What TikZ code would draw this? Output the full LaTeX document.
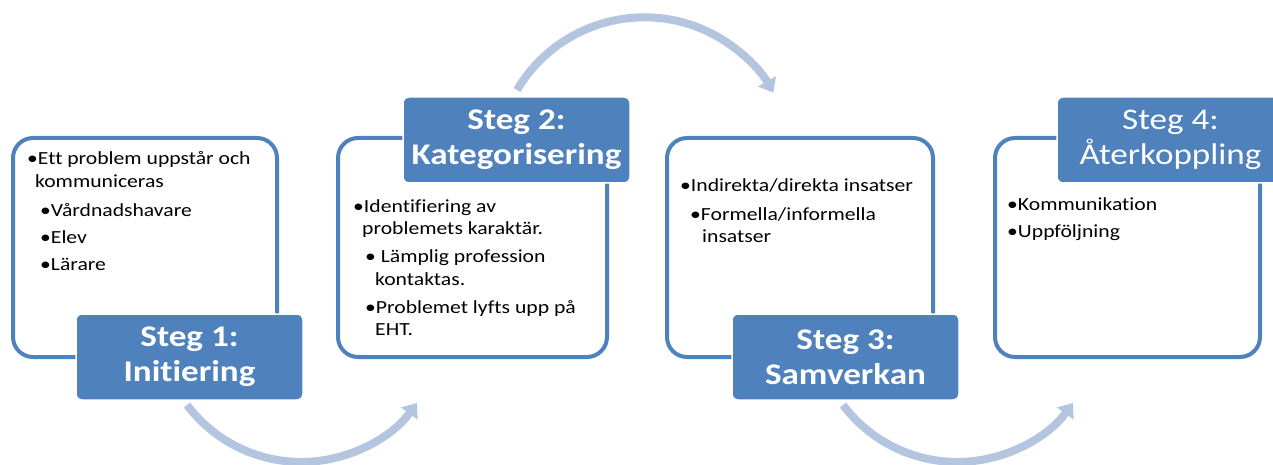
\documentclass[tikz,border=0pt]{standalone}
\usepackage{fontspec}
\setmainfont{Carlito}[FakeStretch=1.17, RawFeature=-liga]
\usetikzlibrary{arrows.meta}
\definecolor{acc}{RGB}{79,129,189}
\definecolor{arcc}{RGB}{179,197,223}
\tikzset{
 panel/.style={draw=acc, line width=4pt, fill=white, rounded corners=20pt, inner sep=0pt},
 ttl/.style={fill=acc, draw=white, line width=1.5pt, rounded corners=6pt, text=white,
   font=\fontsize{30}{35}\selectfont\bfseries, align=center, inner sep=0pt,
   minimum width=227pt, minimum height=86pt},
 ttlreg/.style={ttl, font=\fontsize{30}{35}\selectfont},
 body/.style={anchor=base west, inner sep=0pt, font=\fontsize{18.5}{22}\selectfont},
 flow/.style={draw=arcc, line width=8pt, -{Triangle[width=20pt,length=13pt]}}
}
\begin{document}
\begin{tikzpicture}[x=1pt,y=-1pt]
\useasboundingbox (0,0) rectangle (1273,465);
\clip (0,0) rectangle (1273,465);
% arcs
\coordinate (a1s) at (187,405);
\coordinate (a2s) at (517,90);
\coordinate (a3s) at (843,405);
\draw[flow] (a1s) arc[start angle=143, end angle=36, radius=143];
\draw[flow] (a2s) arc[start angle=210.6, end angle=330.6, radius=148];
\draw[flow] (a3s) arc[start angle=143, end angle=36, radius=143];
% panels
\node[panel, minimum width=264pt, minimum height=219pt] (p1) at (145,247.5) {};
\node[panel, minimum width=269pt, minimum height=219pt] (p2) at (472.5,247.5) {};
\node[panel, minimum width=266pt, minimum height=219pt] (p3) at (800,247.5) {};
\node[panel, minimum width=265pt, minimum height=219pt] (p4) at (1127.5,247.5) {};
% titles
\node[ttl] (t1) at (189.5,357) {Steg 1:\\Initiering};
\node[ttl] (t2) at (516.5,140) {Steg 2:\\Kategorisering};
\node[ttl] (t3) at (845.5,357) {Steg 3:\\Samverkan};
\node[ttlreg] (t4) at (1170.5,140) {Steg 4:\\Återkoppling};
% body text panel 1
\node[body] (b11) at (27,165) {•Ett problem uppstår och};
\node[body] (b12) at (35,188) {kommuniceras};
\node[body] (b13) at (40,216) {•Vårdnadshavare};
\node[body] (b14) at (40,243) {•Elev};
\node[body] (b15) at (40,270) {•Lärare};
% panel 2
\node[body] (b21) at (353,212) {•Identifiering av};
\node[body] (b22) at (362,234) {problemets karaktär.};
\node[body] (b23) at (365,262) {• Lämplig profession};
\node[body] (b24) at (375,285) {kontaktas.};
\node[body] (b25) at (365,313) {•Problemet lyfts upp på};
\node[body] (b26) at (375,335) {EHT.};
% panel 3
\node[body] (b31) at (680,192) {•Indirekta/direkta insatser};
\node[body] (b32) at (690,220) {•Formella/informella};
\node[body] (b33) at (702,242) {insatser};
% panel 4
\node[body] (b41) at (1007,210) {•Kommunikation};
\node[body] (b42) at (1007,237) {•Uppföljning};
\end{tikzpicture}
\end{document}
